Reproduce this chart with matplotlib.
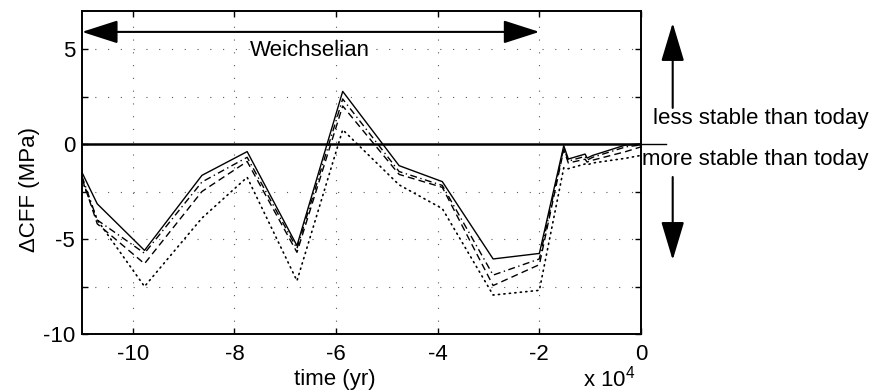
import matplotlib
matplotlib.use('Agg')
import matplotlib.pyplot as plt

plt.rcParams['font.family'] = ['Liberation Sans', 'DejaVu Sans']
plt.rcParams['axes.unicode_minus'] = False
plt.rcParams['mathtext.fontset'] = 'custom'
plt.rcParams['mathtext.rm'] = 'Liberation Sans'

# time points (yr) and delta CFF (MPa) for four model runs
time_yr = [-110000, -107000, -97700, -86400, -77500, -67700, -58700, -47600,
           -39100, -29100, -20000, -15200, -14300, -11000, -10600, -9500,
           -3000, 0]
cff_solid = [-1.5, -3.15, -5.6, -1.65, -0.4, -5.35, 2.77, -1.14, -1.98,
             -6.05, -5.76, -0.09, -0.79, -0.53, -0.74, -0.6, -0.05, 0.0]
cff_dashdot = [-1.7, -4.0, -5.75, -2.0, -0.7, -5.5, 2.37, -1.45, -2.18,
               -6.9, -6.05, -0.2, -0.9, -0.65, -0.85, -0.7, -0.15, -0.05]
cff_dashed = [-1.8, -4.2, -6.3, -2.5, -0.92, -5.7, 2.0, -1.6, -2.28,
              -7.45, -6.35, -0.3, -1.0, -0.8, -0.95, -0.85, -0.4, -0.15]
cff_dotted = [-1.9, -4.0, -7.5, -3.9, -1.75, -7.2, 0.75, -2.15, -3.4,
              -7.95, -7.7, -1.25, -1.3, -1.05, -1.1, -1.0, -0.75, -0.6]

xticks = [-100000, -80000, -60000, -40000, -20000, 0]
xtick_labels = ['-10', '-8', '-6', '-4', '-2', '0']
yticks = [-10, -7.5, -5, -2.5, 0, 2.5, 5]
ytick_labels = ['-10', '', '-5', '', '0', '', '5']

FS = 16

fig = plt.figure(figsize=(8.8, 3.92), dpi=100)
ax = fig.add_axes([82 / 880, 58 / 392, 559 / 880, 323 / 392])

ax.plot(time_yr, cff_solid, color='k', lw=1.0)
ax.plot(time_yr, cff_dashdot, color='k', lw=1.0, dashes=(5, 2.5, 1, 2.5))
ax.plot(time_yr, cff_dashed, color='k', lw=1.0, dashes=(5, 3))
ax.plot(time_yr, cff_dotted, color='k', lw=1.2, dashes=(0.7, 2.6),
        dash_capstyle='round')

# zero line, extended a bit past the right edge
ax.axhline(0, color='k', lw=1.8, zorder=3)
ax.axhline(0, xmin=1.0, xmax=1.045, color='k', lw=1.0, clip_on=False)

ax.set_xlim(-110000, 0)
ax.set_ylim(-10, 7)
ax.set_xticks(xticks)
ax.set_xticklabels(xtick_labels, fontsize=FS)
ax.set_yticks(yticks)
ax.set_yticklabels(ytick_labels, fontsize=FS)
ax.tick_params(direction='in', length=4.5, width=1.0, top=True, right=True)
ax.tick_params(axis='x', pad=7)
ax.tick_params(axis='y', pad=5)
ax.grid(True, color='0.35', lw=0.8, dashes=(1, 10.5))
for sp in ax.spines.values():
    sp.set_linewidth(1.4)

head = '<|-|>,head_length=1.12,head_width=0.36'
one_head = '-|>,head_length=1.2,head_width=0.36'

# Weichselian double arrow
ax.annotate('', xy=(-110000, 5.9), xytext=(-20000, 5.9),
            arrowprops=dict(arrowstyle=head, mutation_scale=20,
                            shrinkA=0, shrinkB=0, lw=1.5, color='k'))
ax.text(-65200, 4.65, 'Weichselian', fontsize=FS, ha='center', va='baseline')

# stability arrows on the right
ax.annotate('', xy=(1.0567, 0.963), xytext=(1.0567, 0.700),
            xycoords='axes fraction', annotation_clip=False,
            arrowprops=dict(arrowstyle=one_head, mutation_scale=20,
                            shrinkA=0, shrinkB=0, lw=1.5, color='k'))
ax.annotate('', xy=(1.0567, 0.229), xytext=(1.0567, 0.486),
            xycoords='axes fraction', annotation_clip=False,
            arrowprops=dict(arrowstyle=one_head, mutation_scale=20,
                            shrinkA=0, shrinkB=0, lw=1.5, color='k'))
ax.text(1.0215, 0.666, 'less stable than today', transform=ax.transAxes,
        fontsize=FS, ha='left', va='center')
ax.text(1.002, 0.539, 'more stable than today', transform=ax.transAxes,
        fontsize=FS, ha='left', va='center')

fig.text(335 / 880, 7 / 392, 'time (yr)', fontsize=FS, ha='center', va='baseline')
fig.text(583 / 880, 1 / 392, r'x 10$^{\mathregular{4}}$', fontsize=FS,
         ha='left', va='bottom')
fig.text(29 / 880, 1 - 189 / 392, '\u0394CFF (MPa)', fontsize=FS,
         rotation=90, ha='center', va='center')

fig.savefig('out.png', dpi=100)
